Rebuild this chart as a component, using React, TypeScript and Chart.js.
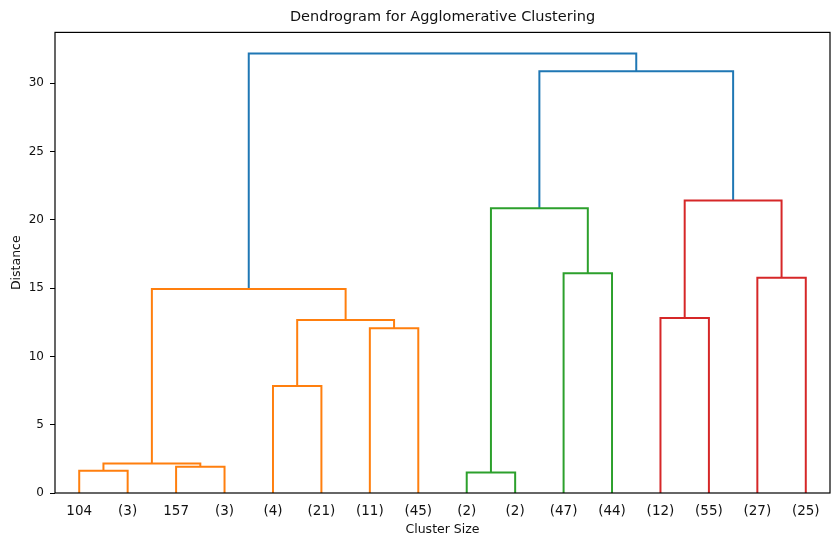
import React, { useEffect, useRef } from "react";
import { Chart, registerables } from "chart.js";

Chart.register(...registerables);

const chartTitle = "Dendrogram for Agglomerative Clustering";
const xTitle = "Cluster Size";
const yTitle = "Distance";

const leafLabels = ["104", "(3)", "157", "(3)", "(4)", "(21)", "(11)", "(45)", "(2)", "(2)", "(47)", "(44)", "(12)", "(55)", "(27)", "(25)"];
const leafPositions = [5, 15, 25, 35, 45, 55, 65, 75, 85, 95, 105, 115, 125, 135, 145, 155];
const yTicks = [0, 5, 10, 15, 20, 25, 30];

// scipy-style icoord / dcoord of each link
const linkX = [
  [5, 5, 15, 15],
  [25, 25, 35, 35],
  [10, 10, 30, 30],
  [45, 45, 55, 55],
  [65, 65, 75, 75],
  [50, 50, 70, 70],
  [20, 20, 60, 60],
  [85, 85, 95, 95],
  [105, 105, 115, 115],
  [90, 90, 110, 110],
  [125, 125, 135, 135],
  [145, 145, 155, 155],
  [130, 130, 150, 150],
  [100, 100, 140, 140],
  [40, 40, 120, 120],
];
const linkHeights = [
  [0, 1.63, 1.63, 0],
  [0, 1.92, 1.92, 0],
  [1.63, 2.16, 2.16, 1.92],
  [0, 7.84, 7.84, 0],
  [0, 12.07, 12.07, 0],
  [7.84, 12.66, 12.66, 12.07],
  [2.16, 14.94, 14.94, 12.66],
  [0, 1.5, 1.5, 0],
  [0, 16.09, 16.09, 0],
  [1.5, 20.84, 20.84, 16.09],
  [0, 12.81, 12.81, 0],
  [0, 15.75, 15.75, 0],
  [12.81, 21.42, 21.42, 15.75],
  [20.84, 30.87, 30.87, 21.42],
  [14.94, 32.18, 32.18, 30.87],
];
const linkColors = [
  "#ff7f0e", "#ff7f0e", "#ff7f0e", "#ff7f0e", "#ff7f0e", "#ff7f0e", "#ff7f0e",
  "#2ca02c", "#2ca02c", "#2ca02c",
  "#d62728", "#d62728", "#d62728",
  "#1f77b4", "#1f77b4",
];

const framePlugin = {
  id: "frame",
  afterDatasetsDraw(chart: any) {
    const { ctx, chartArea } = chart;
    const { left, top, right, bottom } = chartArea;
    ctx.save();
    ctx.strokeStyle = "#000";
    ctx.lineWidth = 1.2;
    ctx.strokeRect(left, top, right - left, bottom - top);
    ctx.restore();
  },
};

export default function App() {
  const canvasRef = useRef<HTMLCanvasElement | null>(null);

  useEffect(() => {
    if (!canvasRef.current) return;
    Chart.defaults.font.family = "'DejaVu Sans', sans-serif";
    Chart.defaults.color = "#111";

    const datasets = linkX.map((xs, i) => ({
      data: xs.map((x, j) => ({ x, y: linkHeights[i][j] })),
      borderColor: linkColors[i],
      backgroundColor: linkColors[i],
      borderWidth: 2,
      pointRadius: 0,
      pointHoverRadius: 0,
      fill: false,
      tension: 0,
    }));

    const chart = new Chart(canvasRef.current, {
      type: "line",
      data: { datasets },
      plugins: [framePlugin],
      options: {
        animation: false,
        responsive: false,
        parsing: true,
        layout: { padding: { left: 0, right: 9, top: 0, bottom: 0 } },
        plugins: {
          legend: { display: false },
          tooltip: { enabled: false },
          title: {
            display: true,
            text: chartTitle,
            fullSize: false,
            color: "#111",
            font: { size: 14.5, weight: "normal" },
            padding: { top: 9, bottom: 6 },
          },
        },
        scales: {
          x: {
            type: "linear",
            min: 0,
            max: 160,
            afterBuildTicks: (scale: any) => {
              scale.ticks = leafPositions.map((v) => ({ value: v }));
            },
            afterFit: (scale: any) => {
              scale.height = 55;
            },
            ticks: {
              autoSkip: false,
              maxRotation: 0,
              minRotation: 0,
              padding: 2,
              color: "#111",
              font: { size: 13.5 },
              callback: (value: any) => {
                const idx = leafPositions.indexOf(Number(value));
                return idx >= 0 ? leafLabels[idx] : "";
              },
            },
            grid: { display: false },
            border: { display: false },
            title: {
              display: true,
              text: xTitle,
              color: "#111",
              font: { size: 12.5 },
              padding: { top: 0, bottom: 11 },
            },
          },
          y: {
            type: "linear",
            min: 0,
            max: 33.72,
            afterBuildTicks: (scale: any) => {
              scale.ticks = yTicks.map((v) => ({ value: v }));
            },
            afterFit: (scale: any) => {
              scale.width = 55;
            },
            ticks: {
              padding: 6,
              color: "#111",
              font: { size: 12 },
            },
            grid: {
              display: true,
              drawOnChartArea: false,
              drawTicks: true,
              tickLength: 5,
              color: "#000",
              lineWidth: 1,
            },
            border: { display: false },
            title: {
              display: true,
              text: yTitle,
              color: "#111",
              font: { size: 12.5 },
              padding: { top: 9, bottom: 0 },
            },
          },
        },
      },
    } as any);

    return () => {
      chart.destroy();
    };
  }, []);

  return (
    <div style={{ position: "absolute", left: 0, top: 0, width: 839, height: 548, background: "#fff" }}>
      <canvas ref={canvasRef} width={839} height={548} style={{ display: "block" }} />
    </div>
  );
}
